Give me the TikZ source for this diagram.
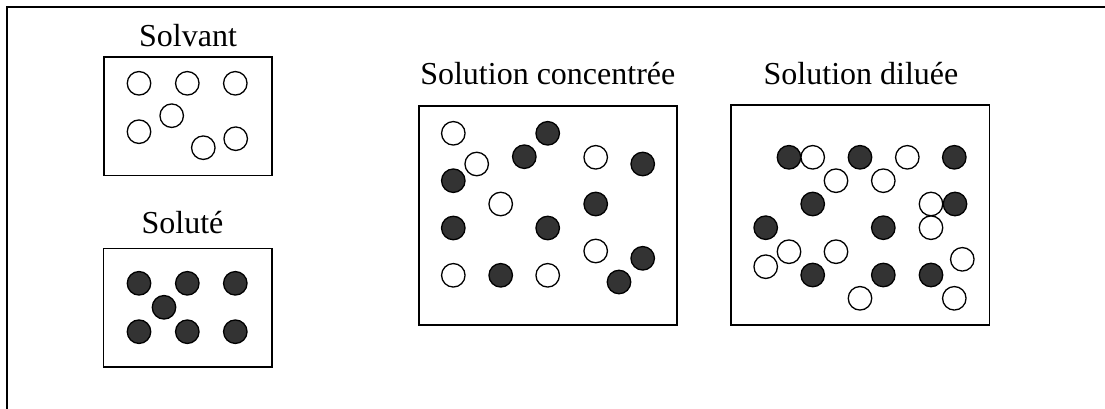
\documentclass[tikz,border=0pt]{standalone}
\usepackage{fontspec}
\setmainfont{Liberation Serif}
\tikzset{
  frame/.style={line width=2.2pt, line cap=rect},
  box/.style={draw, line width=1.6pt, rectangle, inner sep=0pt},
  solv/.style={circle, draw, line width=1.3pt, fill=white, inner sep=0pt, minimum size=23.5pt},
  solu/.style={circle, draw, line width=1.3pt, fill=black!80, inner sep=0pt, minimum size=23.5pt},
  lab/.style={anchor=base, inner sep=0pt, font=\fontsize{32}{37}\selectfont}
}
\begin{document}
\begin{tikzpicture}[x=1pt,y=-1pt]
\useasboundingbox (0,0) rectangle (1105,409);
\coordinate (fa) at (7,409);
\coordinate (fb) at (7,7);
\coordinate (fc) at (1105,7);
\draw[frame] (fa) -- (fb) -- (fc);

% Solvant
\node[lab] (tsolv) at (188,46.7) {Solvant};
\node[box, minimum width=168pt, minimum height=118pt] (bsolv) at (188,116.3) {};
\node[solv] (s1) at (139,83.3) {};
\node[solv] (s2) at (187.3,83.3) {};
\node[solv] (s3) at (235.3,83.3) {};
\node[solv] (s4) at (171.7,115.7) {};
\node[solv] (s5) at (139,131.7) {};
\node[solv] (s6) at (203.3,147.7) {};
\node[solv] (s7) at (235.7,138.7) {};

% Solute
\node[lab] (tsolu) at (182.5,233) {Soluté};
\node[box, minimum width=168.4pt, minimum height=118.4pt] (bsolu) at (187.5,307.5) {};
\node[solu] (u1) at (139,283.3) {};
\node[solu] (u2) at (187.3,283.3) {};
\node[solu] (u3) at (235.3,283.3) {};
\node[solu] (u4) at (164,307.3) {};
\node[solu] (u5) at (139,331.7) {};
\node[solu] (u6) at (187.3,331.7) {};
\node[solu] (u7) at (235.3,331.7) {};

% Solution concentree
\node[lab] (tconc) at (547.8,84.3) {Solution concentrée};
\node[box, minimum width=257.7pt, minimum height=219pt] (bconc) at (547.9,215.5) {};
\node[solv] (c1) at (453.3,133.3) {};
\node[solv] (c2) at (476.7,164) {};
\node[solv] (c3) at (500.7,204) {};
\node[solv] (c4) at (595.7,157.3) {};
\node[solv] (c5) at (595.7,251) {};
\node[solv] (c6) at (453.3,275.3) {};
\node[solv] (c7) at (547.7,275.3) {};
\node[solu] (c8) at (547.7,133.3) {};
\node[solu] (c9) at (524.3,156.7) {};
\node[solu] (c10) at (453.3,180.7) {};
\node[solu] (c11) at (642.7,164) {};
\node[solu] (c12) at (595.7,204) {};
\node[solu] (c13) at (453.3,228) {};
\node[solu] (c14) at (547.7,228) {};
\node[solu] (c15) at (500.7,275.3) {};
\node[solu] (c16) at (642.7,258.3) {};
\node[solu] (c17) at (619,282) {};

% Solution diluee
\node[lab] (tdil) at (861,84.3) {Solution diluée};
\node[box, minimum width=258.3pt, minimum height=220pt] (bdil) at (860.2,215) {};
\node[solu] (d1) at (789,157.3) {};
\node[solv] (d11) at (812.7,157.3) {};
\node[solu] (d2) at (860,157.3) {};
\node[solv] (d12) at (907.3,157.3) {};
\node[solu] (d3) at (954.3,157.3) {};
\node[solv] (d13) at (836,180.7) {};
\node[solv] (d14) at (883.3,180.7) {};
\node[solu] (d4) at (812.7,204) {};
\node[solv] (d15) at (931,204) {};
\node[solu] (d5) at (955,204) {};
\node[solu] (d6) at (765.7,227.7) {};
\node[solu] (d7) at (883.3,227.7) {};
\node[solv] (d16) at (931,227.7) {};
\node[solv] (d17) at (789,251.7) {};
\node[solv] (d18) at (836,251.7) {};
\node[solv] (d19) at (765.7,266.7) {};
\node[solv] (d20) at (962.3,259.3) {};
\node[solu] (d8) at (812.7,275) {};
\node[solu] (d9) at (883.3,275) {};
\node[solu] (d10) at (931,275) {};
\node[solv] (d21) at (860,298.3) {};
\node[solv] (d22) at (954.3,298.3) {};
\end{tikzpicture}
\end{document}
